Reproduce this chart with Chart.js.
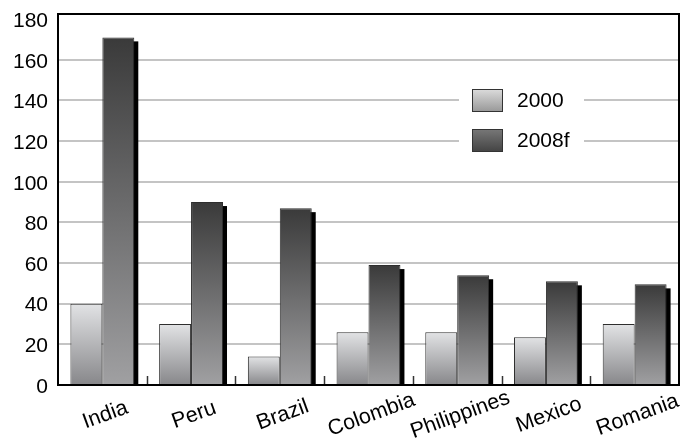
<!DOCTYPE html>
<html><head><meta charset="utf-8">
<script src="https://cdn.jsdelivr.net/npm/chart.js@4/dist/chart.umd.min.js"></script>
<style>html,body{margin:0;padding:0;background:#fff;}#wrap{width:684px;height:447px;}</style>
</head><body><div id="wrap"><canvas id="c" width="684" height="447"></canvas></div>
<script>
const categories = ['India', 'Peru', 'Brazil', 'Colombia', 'Philippines', 'Mexico', 'Romania'];
const series2000 = [40, 30, 14, 26, 26, 23.5, 30];
const series2008f = [171, 90, 87, 59, 54, 51, 49.5];
const seriesLabels = ['2000', '2008f'];
const yTickValues = [0, 20, 40, 60, 80, 100, 120, 140, 160, 180];

const FONT = "'Liberation Sans', Arial, Helvetica, sans-serif";

function barGrad(top, bottom) {
  return (ctx) => {
    const chart = ctx.chart;
    const ys = chart.scales && chart.scales.y;
    if (!ys || ctx.type !== 'data' || !chart.chartArea) return bottom;
    const yTop = ys.getPixelForValue(ctx.raw);
    const yBot = ys.getPixelForValue(0);
    if (!isFinite(yTop) || !isFinite(yBot) || yTop === yBot) return bottom;
    const g = chart.ctx.createLinearGradient(0, yTop, 0, yBot);
    g.addColorStop(0, top);
    g.addColorStop(1, bottom);
    return g;
  };
}

const shadowPlugin = {
  id: 'shadow',
  beforeDatasetsDraw(chart) {
    const c = chart.ctx, a = chart.chartArea;
    c.save();
    c.beginPath(); c.rect(a.left, a.top, a.right - a.left, a.bottom - a.top); c.clip();
    c.fillStyle = '#000';
    chart.getDatasetMeta(1).data.forEach(el => {
      const p = el.getProps(['x', 'y', 'base', 'width'], true);
      c.fillRect(p.x - p.width / 2 + 4, p.y + 4, p.width, p.base - p.y - 4);
    });
    c.restore();
  }
};

const decoPlugin = {
  id: 'deco',
  afterDatasetsDraw(chart) {
    const c = chart.ctx, a = chart.chartArea, xs = chart.scales.x;
    c.save();
    const n = categories.length;
    const step = (xs.getPixelForTick(1) - xs.getPixelForTick(0));
    c.strokeStyle = '#333'; c.lineWidth = 1.5;
    for (let i = 1; i < n; i++) {
      const x = Math.round(xs.getPixelForTick(i) - step / 2) + 0.5;
      c.beginPath(); c.moveTo(x, a.bottom); c.lineTo(x, a.bottom - 9); c.stroke();
    }
    c.strokeStyle = '#000'; c.lineWidth = 2;
    c.strokeRect(a.left, a.top, a.right - a.left, a.bottom - a.top);
    c.fillStyle = '#000'; c.font = '21.5px ' + FONT;
    c.textAlign = 'center'; c.textBaseline = 'middle';
    categories.forEach((lab, i) => {
      const x = xs.getPixelForTick(i);
      c.save(); c.translate(x + 3, a.bottom + 30); c.rotate(-20 * Math.PI / 180);
      c.fillText(lab, 0, 0); c.restore();
    });
    const lx = 472, ly = [89, 129], bw = 30, bh = 22;
    c.fillStyle = '#fff'; c.fillRect(459, 80, 125, 80);
    const grads = [['#dcdcdc', '#9a9a9a'], ['#787878', '#454545']];
    seriesLabels.forEach((lab, i) => {
      const g = c.createLinearGradient(0, ly[i], 0, ly[i] + bh);
      g.addColorStop(0, grads[i][0]); g.addColorStop(1, grads[i][1]);
      c.fillStyle = g; c.fillRect(lx, ly[i], bw, bh);
      c.strokeStyle = '#333'; c.lineWidth = 1; c.strokeRect(lx + 0.5, ly[i] + 0.5, bw, bh);
      c.fillStyle = '#000'; c.font = '21px ' + FONT; c.textAlign = 'left'; c.textBaseline = 'middle';
      c.fillText(lab, 517, ly[i] + bh / 2 + 1);
    });
    c.restore();
  }
};

new Chart(document.getElementById('c'), {
  type: 'bar',
  data: {
    labels: categories,
    datasets: [
      { label: seriesLabels[0], data: series2000, backgroundColor: barGrad('#e2e3e5', '#87878a'), borderColor: '#2e2e2e', borderWidth: 1 },
      { label: seriesLabels[1], data: series2008f, backgroundColor: barGrad('#3a3a3a', '#a0a0a2'), borderColor: '#2e2e2e', borderWidth: 1 }
    ]
  },
  options: {
    responsive: false, animation: false, devicePixelRatio: 1,
    layout: { padding: { top: 14, right: 5, left: 0, bottom: 0 } },
    datasets: { bar: { categoryPercentage: 0.72, barPercentage: 1.0 } },
    plugins: { legend: { display: false }, tooltip: { enabled: false } },
    scales: {
      x: {
        grid: { display: false }, border: { display: false },
        ticks: { display: false },
        afterFit: (s) => { s.height = 62; s.paddingLeft = 0; s.paddingRight = 0; }
      },
      y: {
        min: 0, max: 182.5,
        afterBuildTicks: (s) => { s.ticks = yTickValues.map(v => ({ value: v })); },
        grid: { color: (ctx) => (ctx.tick && (ctx.tick.value === 0 || ctx.tick.value >= 180)) ? 'rgba(0,0,0,0)' : '#c4c4c4', lineWidth: 2, drawTicks: false },
        border: { display: false },
        ticks: { color: '#000', font: { family: FONT, size: 21 }, padding: 10, labelOffset: 2 },
        afterFit: (s) => { s.width = 58; s.paddingTop = 0; s.paddingBottom = 0; }
      }
    }
  },
  plugins: [shadowPlugin, decoPlugin]
});
</script></body></html>
